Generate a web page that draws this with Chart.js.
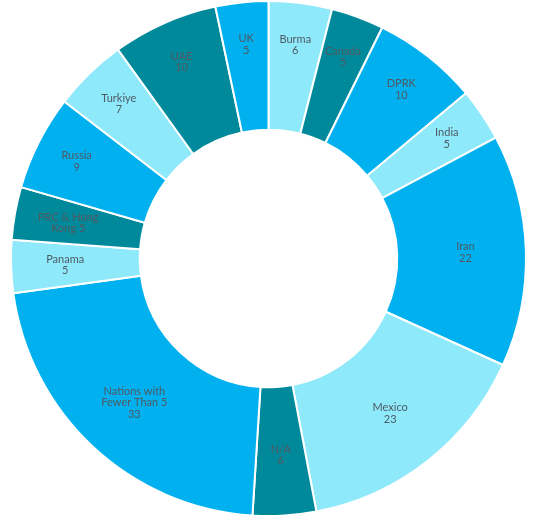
<!DOCTYPE html>
<html>
<head>
<meta charset="utf-8">
<script src="https://cdn.jsdelivr.net/npm/chart.js@4.4.1/dist/chart.umd.min.js"></script>
<style>
  html, body { margin: 0; padding: 0; background: #fff; }
  #wrap { width: 543px; height: 531px; }
</style>
</head>
<body>
<div id="wrap"><canvas id="grafico"></canvas></div>
<script>
// dados
const categorias = ['Burma', 'Canada', 'DPRK', 'India', 'Iran', 'Mexico', 'N/A',
    'Nations with Fewer Than 5', 'Panama', 'PRC & Hong Kong', 'Russia', 'Turkiye', 'UAE', 'UK'];
const valores = [6, 5, 10, 5, 22, 23, 6, 33, 5, 5, 9, 7, 10, 5];

const CLARO = '#8ee9fb';
const PETROLEO = '#00899b';
const AZUL = '#00b0ef';
const cores = [CLARO, PETROLEO, AZUL, CLARO, AZUL, CLARO, PETROLEO, AZUL, CLARO, PETROLEO, AZUL, CLARO, PETROLEO, AZUL];

// quebra de linha dos rótulos como no original
function linhasRotulo(nome, valor) {
    if (nome === 'Nations with Fewer Than 5') return ['Nations with', 'Fewer Than 5', String(valor)];
    if (nome === 'PRC & Hong Kong') return ['PRC & Hong', 'Kong ' + valor];
    return [nome, String(valor)];
}

const rotulosPlugin = {
    id: 'rotulos',
    afterDatasetsDraw(chart) {
        const ctx = chart.ctx;
        const meta = chart.getDatasetMeta(0);
        ctx.save();
        ctx.font = '11px Lato, "Open Sans", sans-serif';
        ctx.fillStyle = '#4f5a62';
        ctx.textAlign = 'center';
        ctx.textBaseline = 'middle';
        const alturaLinha = 11.5;
        meta.data.forEach((arc, i) => {
            const { x, y, startAngle, endAngle, innerRadius, outerRadius } =
                arc.getProps(['x', 'y', 'startAngle', 'endAngle', 'innerRadius', 'outerRadius']);
            const meio = (startAngle + endAngle) / 2;
            const estreita = (endAngle - startAngle) < 0.5;
            // fatias estreitas da metade de cima ficam mais para fora
            let frac = 0.53;
            if (estreita && Math.sin(meio) < -0.3) frac = 0.67;
            else if (estreita && Math.sin(meio) < 0.5) frac = 0.58;
            const r = innerRadius + frac * (outerRadius - innerRadius);
            const px = x + Math.cos(meio) * r;
            const py = y + Math.sin(meio) * r;
            const linhas = linhasRotulo(categorias[i], valores[i]);
            const y0 = py - (linhas.length - 1) * alturaLinha / 2;
            linhas.forEach((l, k) => ctx.fillText(l, px, y0 + k * alturaLinha));
        });
        ctx.restore();
    }
};

new Chart(document.getElementById('grafico'), {
    type: 'doughnut',
    data: {
        labels: categorias,
        datasets: [{
            data: valores,
            backgroundColor: cores,
            borderColor: '#ffffff',
            borderWidth: 2
        }]
    },
    options: {
        responsive: true,
        maintainAspectRatio: false,
        animation: false,
        cutout: '50%',
        layout: { padding: { left: 10, top: 0, right: 16, bottom: 14 } },
        plugins: {
            legend: { display: false },
            tooltip: { enabled: false }
        }
    },
    plugins: [rotulosPlugin]
});
</script>
</body>
</html>
